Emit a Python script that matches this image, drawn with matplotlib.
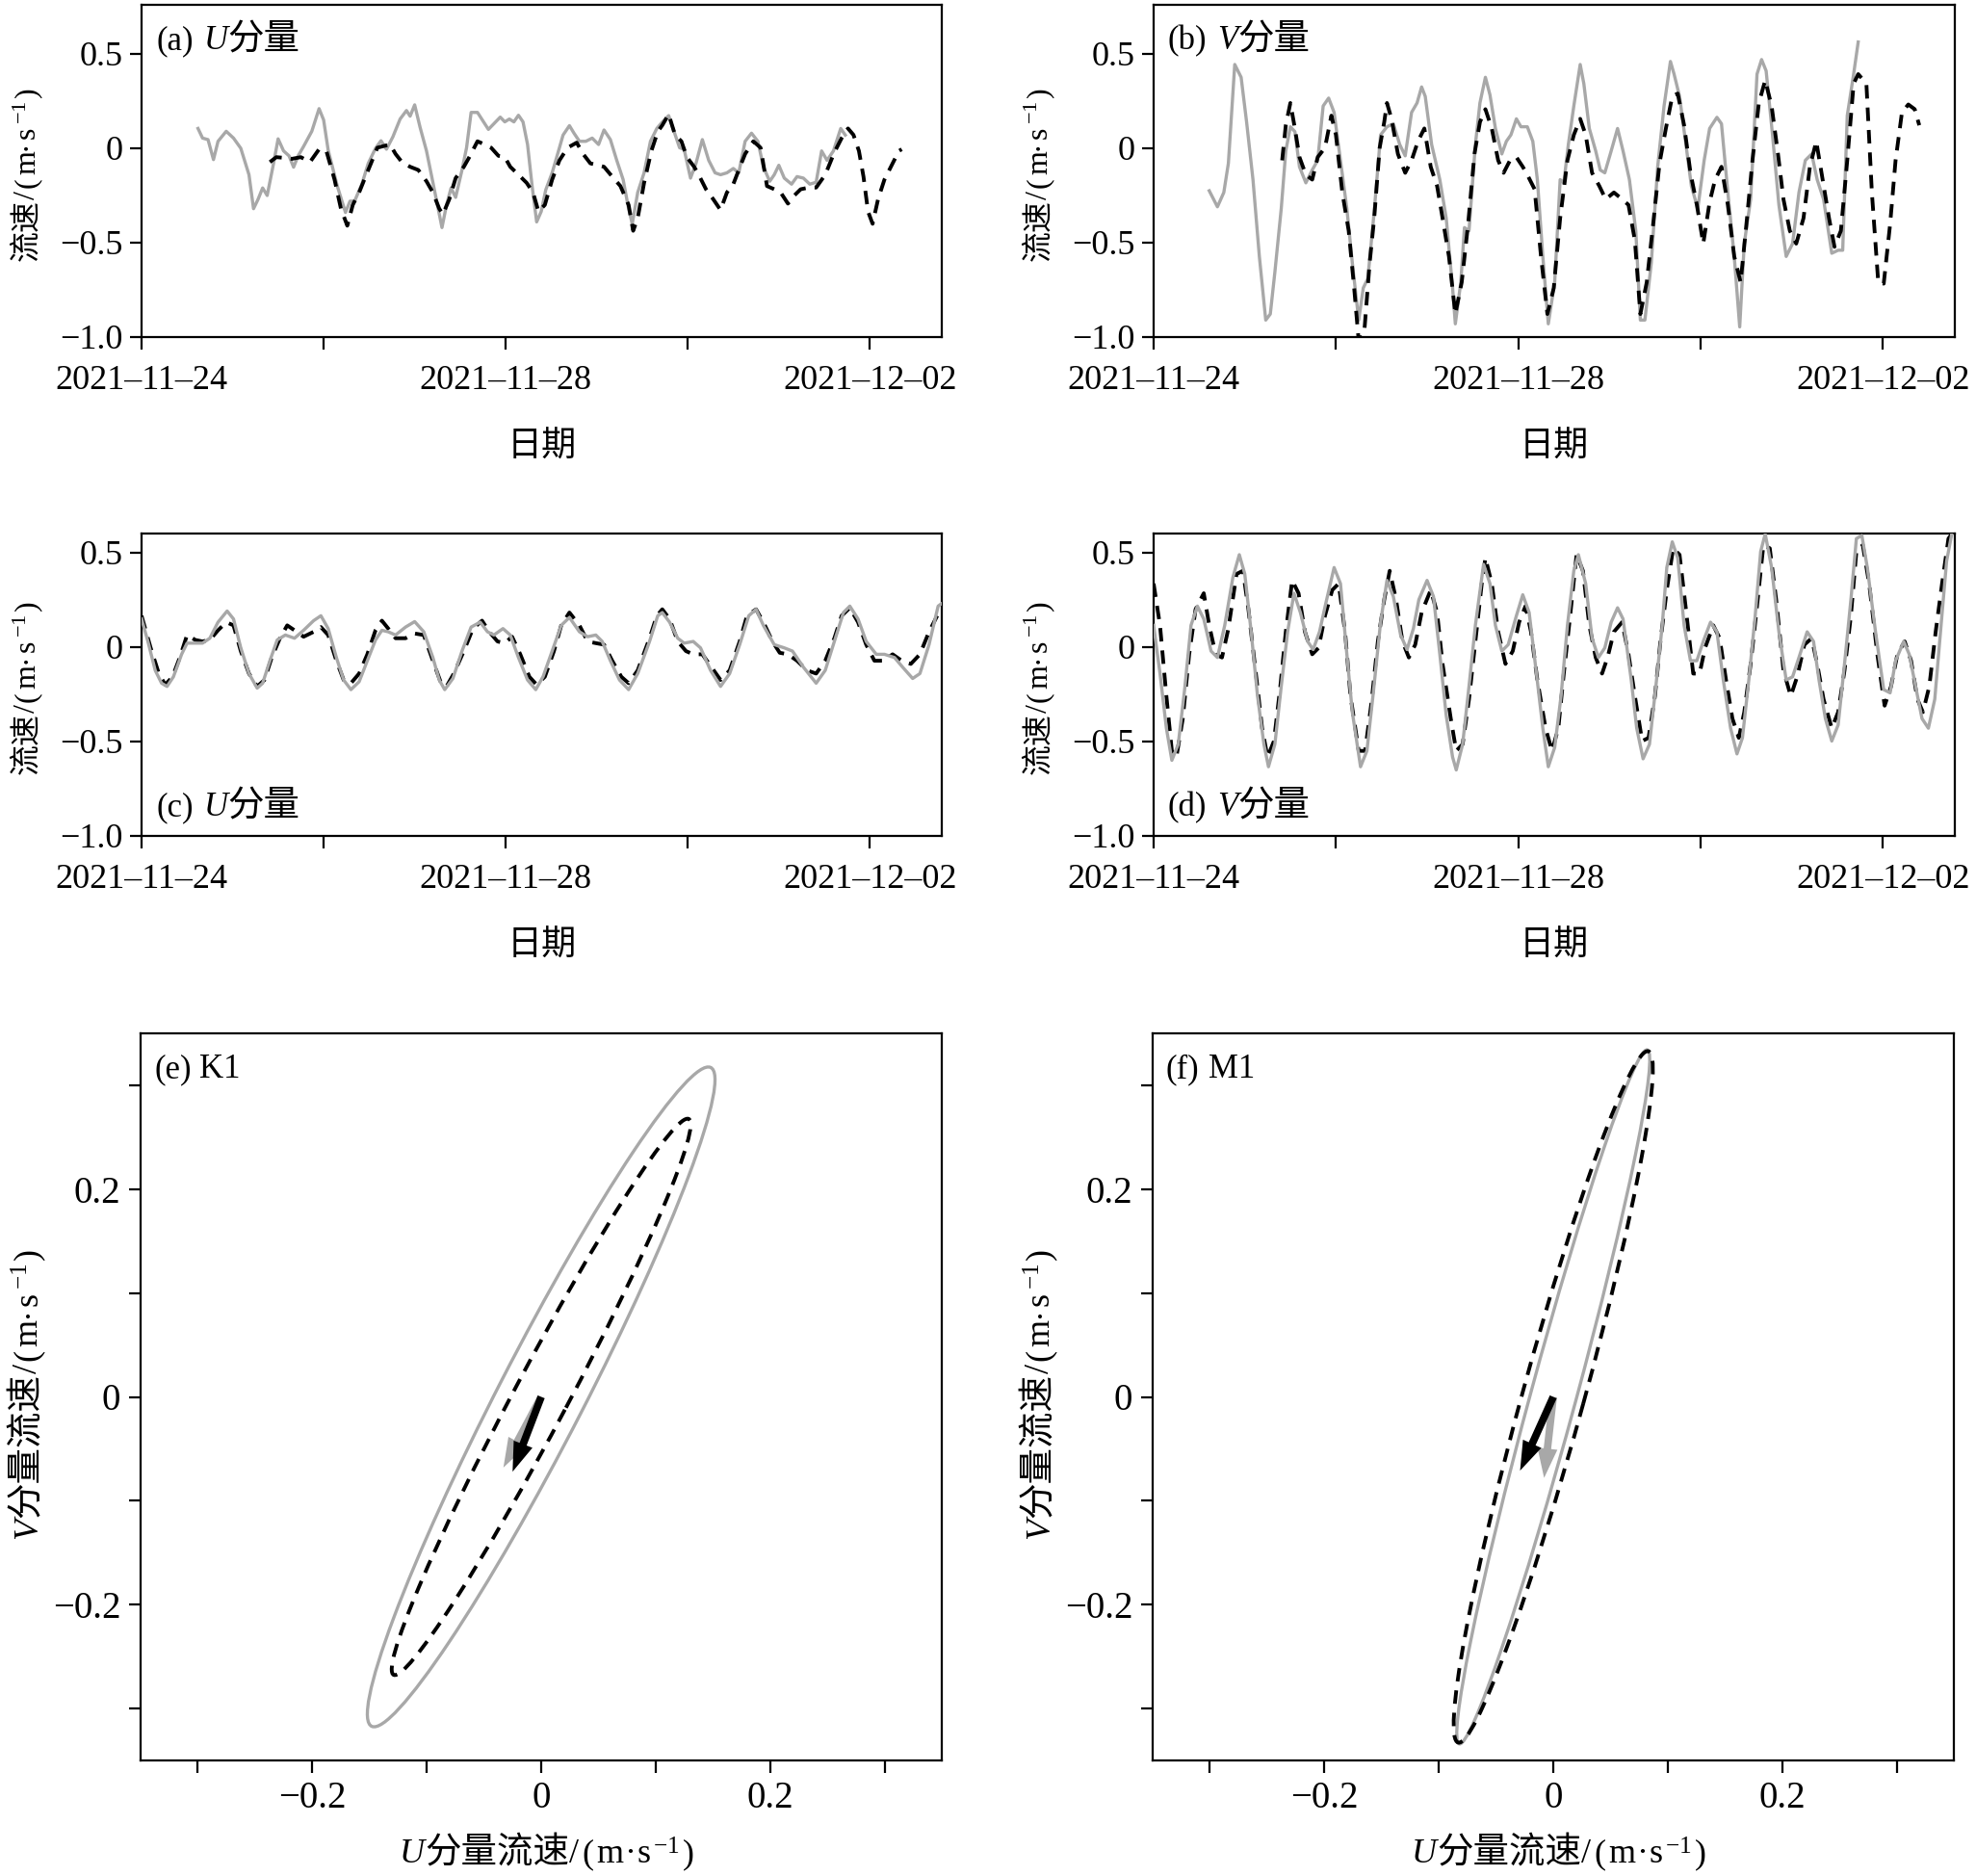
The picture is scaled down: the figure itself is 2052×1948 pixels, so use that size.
import numpy as np
import pandas as pd
import matplotlib
matplotlib.use("Agg")
import matplotlib.pyplot as plt
import matplotlib.dates as mdates
from matplotlib.patches import Ellipse
from matplotlib.transforms import IdentityTransform
from matplotlib.ticker import FixedLocator, FuncFormatter

plt.rcParams["font.family"] = ["Liberation Serif", "Noto Sans CJK SC", "DejaVu Sans"]
plt.rcParams["axes.linewidth"] = 1.6
plt.rcParams["mathtext.fontset"] = "custom"
plt.rcParams["mathtext.rm"] = "Liberation Serif"
plt.rcParams["mathtext.it"] = "Liberation Serif:italic"

GRAY = "#a8a8a8"
T0 = pd.Timestamp("2021-11-24")

# ---- (a) U component, days since 2021-11-24 ----
a_obs_t = [0.62, 0.67, 0.73, 0.79, 0.84, 0.93, 1.01, 1.09, 1.18, 1.23, 1.28, 1.33, 1.38, 1.45, 1.50,
           1.56, 1.62, 1.67, 1.72, 1.78, 1.87, 1.95, 2.00, 2.05, 2.15, 2.24, 2.29, 2.34, 2.42, 2.49,
           2.57, 2.63, 2.69, 2.76, 2.84, 2.91, 2.95, 3.00, 3.06, 3.13, 3.20, 3.25, 3.30, 3.35, 3.40,
           3.45, 3.52, 3.57, 3.62, 3.69, 3.77, 3.81, 3.87, 3.94, 3.99, 4.04, 4.09, 4.14, 4.19, 4.24,
           4.29, 4.34, 4.39, 4.44, 4.51, 4.58, 4.63, 4.70, 4.75, 4.81, 4.88, 4.95, 5.02, 5.08, 5.15,
           5.22, 5.29, 5.35, 5.39, 5.45, 5.52, 5.59, 5.66, 5.72, 5.79, 5.85, 5.91, 5.96, 6.03, 6.09,
           6.16, 6.23, 6.30, 6.36, 6.43, 6.50, 6.56, 6.63, 6.70, 6.77, 6.83, 6.90, 6.95, 7.00, 7.06,
           7.14, 7.20, 7.27, 7.34, 7.41, 7.47, 7.53, 7.60, 7.68, 7.73]
a_obs_v = [0.105, 0.054, 0.046, -0.06, 0.037, 0.09, 0.054, 0.0, -0.14, -0.32, -0.27, -0.21, -0.25, -0.08, 0.05,
           -0.014, -0.04, -0.10, -0.04, 0.01, 0.09, 0.21, 0.15, -0.01, -0.20, -0.34, -0.28, -0.28, -0.19, -0.08,
           0.0, 0.04, -0.005, 0.06, 0.155, 0.20, 0.17, 0.23, 0.11, -0.014, -0.18, -0.30, -0.42, -0.30, -0.21,
           -0.26, -0.115, 0.003, 0.19, 0.19, 0.13, 0.10, 0.13, 0.165, 0.14, 0.155, 0.14, 0.175, 0.14, 0.02,
           -0.20, -0.39, -0.335, -0.22, -0.13, -0.014, 0.07, 0.12, 0.08, 0.037, 0.037, 0.054, 0.02, 0.097, 0.046,
           -0.064, -0.166, -0.32, -0.40, -0.234, -0.13, 0.037, 0.105, 0.139, 0.173, 0.088, 0.003, -0.005, -0.158, -0.08,
           0.046, -0.064, -0.13, -0.14, -0.13, -0.107, -0.13, 0.037, 0.08, 0.037, -0.098, -0.175, -0.14, -0.09, -0.158,
           -0.19, -0.15, -0.158, -0.19, -0.18, -0.014, -0.064, -0.014, 0.105, 0.07]
a_sim_t = [1.41, 1.48, 1.55, 1.65, 1.75, 1.85, 1.95, 2.03, 2.12, 2.19, 2.26, 2.32, 2.39, 2.46, 2.52,
           2.59, 2.66, 2.73, 2.79, 2.86, 2.95, 3.04, 3.13, 3.20, 3.27, 3.31, 3.38, 3.45, 3.54, 3.60,
           3.69, 3.77, 3.84, 3.92, 3.99, 4.05, 4.14, 4.23, 4.30, 4.36, 4.43, 4.51, 4.59, 4.68, 4.78,
           4.85, 4.93, 5.02, 5.08, 5.17, 5.26, 5.35, 5.40, 5.45, 5.52, 5.60, 5.67, 5.72, 5.79, 5.86,
           5.93, 5.99, 6.07, 6.13, 6.20, 6.28, 6.36, 6.43, 6.50, 6.56, 6.63, 6.72, 6.80, 6.87, 6.95,
           7.02, 7.10, 7.17, 7.24, 7.33, 7.41, 7.51, 7.61, 7.69, 7.76, 7.82, 7.88, 7.93, 7.98, 8.03,
           8.09, 8.16, 8.25, 8.32, 8.35]
a_sim_v = [-0.073, -0.047, -0.05, -0.056, -0.047, -0.073, -0.005, -0.014, -0.166, -0.32, -0.41, -0.30, -0.234, -0.15, -0.08,
           0.003, 0.012, 0.02, -0.03, -0.073, -0.098, -0.115, -0.175, -0.234, -0.32, -0.35, -0.27, -0.158, -0.098, -0.047,
           0.037, 0.02, 0.003, -0.04, -0.047, -0.098, -0.14, -0.183, -0.234, -0.335, -0.30, -0.166, -0.064, 0.003, 0.03,
           -0.03, -0.08, -0.09, -0.098, -0.15, -0.20, -0.30, -0.437, -0.37, -0.183, -0.014, 0.088, 0.122, 0.18, 0.071,
           0.037, -0.047, -0.098, -0.15, -0.217, -0.27, -0.327, -0.234, -0.19, -0.115, -0.03, 0.037, 0.003, -0.20, -0.217,
           -0.234, -0.293, -0.25, -0.217, -0.208, -0.208, -0.14, -0.022, 0.054, 0.105, 0.071, -0.014, -0.15, -0.335, -0.40,
           -0.27, -0.166, -0.08, -0.014, -0.005]

# ---- (b) V component ----
b_obs_t = [0.61, 0.70, 0.77, 0.82, 0.89, 0.96, 1.02, 1.09, 1.16, 1.23, 1.28, 1.33, 1.40, 1.45, 1.50,
           1.55, 1.60, 1.67, 1.74, 1.80, 1.86, 1.92, 1.98, 2.05, 2.12, 2.18, 2.25, 2.30, 2.35, 2.42,
           2.49, 2.56, 2.63, 2.70, 2.76, 2.83, 2.89, 2.94, 2.98, 3.05, 3.14, 3.21, 3.28, 3.31, 3.37,
           3.41, 3.46, 3.53, 3.58, 3.64, 3.69, 3.75, 3.82, 3.87, 3.92, 3.98, 4.03, 4.10, 4.16, 4.21,
           4.27, 4.33, 4.40, 4.46, 4.50, 4.55, 4.61, 4.68, 4.72, 4.78, 4.85, 4.90, 4.95, 5.02, 5.09,
           5.15, 5.22, 5.29, 5.34, 5.39, 5.46, 5.53, 5.60, 5.67, 5.71, 5.77, 5.84, 5.90, 5.97, 6.04,
           6.10, 6.18, 6.23, 6.30, 6.37, 6.43, 6.48, 6.55, 6.62, 6.67, 6.72, 6.79, 6.86, 6.94, 7.01,
           7.08, 7.15, 7.22, 7.28, 7.35, 7.44, 7.51, 7.56, 7.61, 7.68, 7.73]
b_obs_v = [-0.225, -0.31, -0.234, -0.08, 0.444, 0.376, 0.139, -0.166, -0.573, -0.91, -0.878, -0.657, -0.32, -0.014, 0.114,
           0.088, -0.098, -0.183, -0.115, -0.064, 0.224, 0.266, 0.19, -0.064, -0.32, -0.607, -0.91, -0.74, -0.69, -0.335,
           0.071, 0.114, 0.13, 0.02, -0.04, 0.19, 0.24, 0.325, 0.275, 0.02, -0.166, -0.37, -0.74, -0.93, -0.71,
           -0.42, -0.437, 0.02, 0.24, 0.376, 0.283, 0.105, -0.03, 0.037, 0.071, 0.156, 0.114, 0.114, 0.037, -0.166,
           -0.573, -0.93, -0.71, -0.166, -0.183, 0.02, 0.224, 0.444, 0.342, 0.105, -0.014, -0.115, -0.13, -0.014, 0.105,
           -0.014, -0.166, -0.437, -0.91, -0.91, -0.607, -0.098, 0.224, 0.46, 0.393, 0.275, 0.02, -0.20, -0.32, -0.064,
           0.105, 0.164, 0.13, -0.234, -0.573, -0.946, -0.505, -0.27, 0.393, 0.47, 0.41, 0.071, -0.30, -0.573, -0.505,
           -0.234, -0.064, -0.03, -0.166, -0.27, -0.556, -0.54, -0.54, 0.173, 0.393, 0.563]
b_sim_t = [1.41, 1.45, 1.50, 1.55, 1.60, 1.67, 1.74, 1.80, 1.88, 1.95, 2.00, 2.07, 2.14, 2.20, 2.25,
           2.31, 2.37, 2.42, 2.48, 2.53, 2.56, 2.61, 2.68, 2.76, 2.83, 2.90, 2.97, 3.04, 3.11, 3.17,
           3.24, 3.31, 3.38, 3.45, 3.52, 3.58, 3.64, 3.71, 3.78, 3.84, 3.91, 3.98, 4.05, 4.11, 4.18,
           4.25, 4.32, 4.39, 4.46, 4.54, 4.61, 4.68, 4.74, 4.81, 4.89, 4.96, 5.05, 5.14, 5.21, 5.28,
           5.34, 5.41, 5.48, 5.55, 5.62, 5.69, 5.75, 5.82, 5.89, 5.96, 6.03, 6.10, 6.16, 6.23, 6.30,
           6.37, 6.44, 6.51, 6.57, 6.64, 6.71, 6.78, 6.85, 6.91, 6.98, 7.05, 7.13, 7.20, 7.27, 7.34,
           7.41, 7.47, 7.54, 7.61, 7.68, 7.73, 7.82, 7.88, 7.95, 8.01, 8.08, 8.14, 8.21, 8.28, 8.35,
           8.40]
b_sim_v = [-0.064, 0.122, 0.24, 0.105, -0.047, -0.14, -0.166, -0.047, 0.003, 0.173, 0.071, -0.234, -0.437, -0.74, -1.02,
           -0.98, -0.607, -0.37, 0.003, 0.139, 0.24, 0.156, -0.03, -0.13, -0.064, 0.037, 0.105, -0.098, -0.20, -0.37,
           -0.573, -0.878, -0.71, -0.403, -0.03, 0.139, 0.207, 0.105, -0.064, -0.13, -0.064, -0.047, -0.098, -0.15, -0.217,
           -0.573, -0.878, -0.74, -0.37, -0.064, 0.071, 0.156, 0.071, -0.13, -0.20, -0.27, -0.234, -0.27, -0.30, -0.488,
           -0.878, -0.71, -0.403, -0.08, 0.105, 0.275, 0.29, 0.122, -0.13, -0.30, -0.505, -0.285, -0.166, -0.098, -0.30,
           -0.573, -0.71, -0.37, -0.064, 0.24, 0.36, 0.224, -0.03, -0.27, -0.437, -0.505, -0.37, -0.098, 0.037, -0.166,
           -0.37, -0.522, -0.437, -0.064, 0.342, 0.393, 0.342, -0.234, -0.71, -0.717, -0.403, -0.064, 0.19, 0.232, 0.207,
           0.122]

# ---- (c) U component (harmonic) ----
c_obs_t = [0.00, 0.07, 0.15, 0.22, 0.28, 0.35, 0.44, 0.50, 0.59, 0.67, 0.75, 0.84, 0.94, 1.01, 1.09,
           1.18, 1.27, 1.33, 1.41, 1.49, 1.58, 1.68, 1.78, 1.89, 1.97, 2.05, 2.14, 2.22, 2.30, 2.39,
           2.48, 2.57, 2.64, 2.71, 2.79, 2.90, 3.00, 3.10, 3.20, 3.27, 3.33, 3.42, 3.52, 3.62, 3.72,
           3.80, 3.87, 3.97, 4.05, 4.14, 4.24, 4.33, 4.41, 4.51, 4.61, 4.70, 4.81, 4.90, 4.99, 5.06,
           5.15, 5.25, 5.35, 5.45, 5.58, 5.67, 5.72, 5.80, 5.89, 5.96, 6.06, 6.14, 6.25, 6.36, 6.46,
           6.57, 6.67, 6.75, 6.83, 6.95, 7.06, 7.15, 7.27, 7.41, 7.51, 7.61, 7.71, 7.78, 7.87, 7.96,
           8.07, 8.16, 8.27, 8.36, 8.47, 8.55, 8.65, 8.75, 8.79]
c_obs_v = [0.148, 0.029, -0.124, -0.192, -0.209, -0.158, -0.039, 0.02, 0.02, 0.02, 0.046, 0.131, 0.19, 0.148, -0.005,
           -0.141, -0.218, -0.192, -0.073, 0.037, 0.063, 0.046, 0.088, 0.139, 0.165, 0.097, -0.056, -0.175, -0.226, -0.184,
           -0.073, 0.037, 0.088, 0.08, 0.063, 0.105, 0.134, 0.08, -0.056, -0.175, -0.226, -0.167, -0.022, 0.105, 0.131,
           0.08, 0.063, 0.097, 0.063, -0.056, -0.175, -0.226, -0.158, -0.022, 0.114, 0.156, 0.08, 0.054, 0.063, 0.029,
           -0.073, -0.175, -0.226, -0.141, 0.029, 0.165, 0.182, 0.131, 0.046, 0.02, 0.029, -0.005, -0.124, -0.209, -0.141,
           0.012, 0.165, 0.199, 0.114, 0.012, -0.005, -0.022, -0.107, -0.192, -0.124, 0.029, 0.182, 0.216, 0.148, 0.029,
           -0.039, -0.039, -0.056, -0.107, -0.167, -0.141, 0.012, 0.216, 0.23]
c_sim_t = [0.00, 0.10, 0.19, 0.26, 0.34, 0.42, 0.50, 0.59, 0.67, 0.75, 0.84, 0.93, 1.01, 1.09, 1.18,
           1.27, 1.35, 1.43, 1.52, 1.60, 1.68, 1.78, 1.89, 1.97, 2.05, 2.14, 2.22, 2.30, 2.39, 2.48,
           2.57, 2.64, 2.71, 2.79, 2.90, 3.00, 3.10, 3.20, 3.29, 3.35, 3.43, 3.54, 3.64, 3.74, 3.82,
           3.91, 3.99, 4.07, 4.16, 4.26, 4.34, 4.43, 4.53, 4.61, 4.70, 4.81, 4.90, 4.99, 5.08, 5.17,
           5.27, 5.35, 5.45, 5.58, 5.66, 5.72, 5.80, 5.89, 5.98, 6.06, 6.16, 6.26, 6.36, 6.46, 6.57,
           6.65, 6.75, 6.83, 6.93, 7.01, 7.10, 7.20, 7.31, 7.41, 7.51, 7.61, 7.69, 7.78, 7.87, 7.96,
           8.05, 8.15, 8.25, 8.35, 8.45, 8.55, 8.65, 8.74]
c_sim_v = [0.165, -0.005, -0.141, -0.20, -0.158, -0.056, 0.063, 0.037, 0.029, 0.037, 0.088, 0.131, 0.114, -0.022, -0.141,
           -0.209, -0.175, -0.056, 0.046, 0.114, 0.088, 0.054, 0.08, 0.105, 0.063, -0.073, -0.175, -0.192, -0.141, -0.039,
           0.088, 0.139, 0.097, 0.046, 0.046, 0.071, 0.063, -0.073, -0.192, -0.209, -0.141, -0.022, 0.097, 0.139, 0.08,
           0.029, 0.02, 0.054, -0.039, -0.158, -0.20, -0.158, -0.022, 0.114, 0.182, 0.114, 0.029, 0.02, 0.012, -0.073,
           -0.158, -0.192, -0.124, 0.046, 0.165, 0.199, 0.148, 0.029, -0.022, -0.039, -0.039, -0.107, -0.175, -0.124, 0.029,
           0.165, 0.199, 0.131, 0.029, -0.031, -0.039, -0.073, -0.124, -0.141, -0.073, 0.046, 0.165, 0.207, 0.131, 0.012,
           -0.073, -0.073, -0.039, -0.073, -0.09, -0.039, 0.08, 0.165]

# ---- (d) V component (harmonic) ----
d_obs_t = [0.00, 0.07, 0.14, 0.20, 0.27, 0.34, 0.41, 0.48, 0.55, 0.63, 0.70, 0.78, 0.87, 0.94, 1.00,
           1.07, 1.14, 1.21, 1.26, 1.33, 1.40, 1.47, 1.54, 1.61, 1.69, 1.75, 1.82, 1.89, 1.98, 2.05,
           2.12, 2.18, 2.27, 2.34, 2.41, 2.49, 2.56, 2.63, 2.71, 2.78, 2.85, 2.91, 3.00, 3.07, 3.14,
           3.21, 3.28, 3.32, 3.39, 3.46, 3.53, 3.62, 3.69, 3.75, 3.82, 3.89, 3.98, 4.05, 4.12, 4.20,
           4.27, 4.33, 4.40, 4.47, 4.54, 4.61, 4.66, 4.74, 4.81, 4.88, 4.95, 5.02, 5.09, 5.15, 5.24,
           5.30, 5.37, 5.44, 5.51, 5.58, 5.63, 5.69, 5.75, 5.82, 5.89, 5.96, 6.03, 6.11, 6.18, 6.25,
           6.33, 6.40, 6.46, 6.53, 6.60, 6.66, 6.71, 6.78, 6.86, 6.94, 7.01, 7.08, 7.17, 7.24, 7.30,
           7.37, 7.44, 7.51, 7.58, 7.65, 7.71, 7.77, 7.83, 7.92, 8.01, 8.08, 8.14, 8.23, 8.29, 8.36,
           8.43, 8.50, 8.57, 8.63, 8.70, 8.76, 8.79]
d_obs_v = [0.114, -0.141, -0.43, -0.60, -0.515, -0.226, 0.114, 0.216, 0.148, -0.022, -0.056, 0.114, 0.369, 0.488, 0.386,
           0.08, -0.26, -0.515, -0.634, -0.515, -0.209, 0.08, 0.284, 0.182, 0.029, -0.014, 0.08, 0.233, 0.42, 0.335,
           -0.039, -0.345, -0.634, -0.55, -0.243, 0.131, 0.352, 0.267, 0.063, -0.014, 0.097, 0.25, 0.352, 0.267, -0.039,
           -0.362, -0.583, -0.651, -0.515, -0.209, 0.114, 0.437, 0.335, 0.114, -0.022, 0.012, 0.165, 0.276, 0.182, -0.141,
           -0.43, -0.634, -0.532, -0.26, 0.114, 0.403, 0.488, 0.335, 0.046, -0.056, -0.005, 0.131, 0.207, 0.148, -0.175,
           -0.43, -0.592, -0.515, -0.209, 0.114, 0.42, 0.556, 0.471, 0.114, -0.073, -0.073, 0.029, 0.131, 0.08, -0.175,
           -0.43, -0.566, -0.481, -0.175, 0.165, 0.505, 0.598, 0.42, 0.08, -0.175, -0.158, -0.056, 0.08, 0.029, -0.175,
           -0.379, -0.498, -0.413, -0.09, 0.25, 0.573, 0.59, 0.42, 0.08, -0.226, -0.243, -0.073, 0.029, -0.039, -0.209,
           -0.379, -0.43, -0.277, 0.063, 0.454, 0.607, 0.63]
d_sim_t = [0.00, 0.07, 0.14, 0.20, 0.25, 0.32, 0.39, 0.46, 0.55, 0.61, 0.68, 0.75, 0.82, 0.91, 0.98,
           1.04, 1.13, 1.19, 1.25, 1.32, 1.39, 1.45, 1.52, 1.59, 1.66, 1.74, 1.81, 1.88, 1.96, 2.03,
           2.10, 2.16, 2.25, 2.32, 2.39, 2.46, 2.53, 2.59, 2.66, 2.73, 2.80, 2.87, 2.94, 3.04, 3.11,
           3.17, 3.26, 3.32, 3.39, 3.46, 3.53, 3.60, 3.64, 3.71, 3.78, 3.86, 3.94, 4.01, 4.08, 4.14,
           4.21, 4.30, 4.37, 4.44, 4.50, 4.57, 4.64, 4.71, 4.78, 4.85, 4.92, 4.98, 5.05, 5.14, 5.21,
           5.28, 5.36, 5.43, 5.50, 5.56, 5.63, 5.70, 5.77, 5.84, 5.92, 5.99, 6.05, 6.14, 6.21, 6.28,
           6.35, 6.42, 6.48, 6.55, 6.62, 6.69, 6.76, 6.83, 6.91, 6.99, 7.06, 7.14, 7.22, 7.28, 7.35,
           7.44, 7.51, 7.58, 7.65, 7.71, 7.78, 7.85, 7.94, 8.02, 8.09, 8.16, 8.24, 8.31, 8.38, 8.44,
           8.51, 8.58, 8.65, 8.72, 8.79]
d_sim_v = [0.335, 0.114, -0.26, -0.55, -0.583, -0.379, -0.039, 0.199, 0.284, 0.114, -0.039, -0.056, 0.097, 0.386, 0.403,
           0.199, -0.175, -0.43, -0.583, -0.498, -0.209, 0.08, 0.352, 0.284, 0.08, -0.039, -0.005, 0.165, 0.301, 0.335,
           0.08, -0.26, -0.55, -0.55, -0.294, 0.029, 0.25, 0.403, 0.25, 0.029, -0.056, 0.012, 0.182, 0.301, 0.182,
           -0.09, -0.379, -0.55, -0.515, -0.277, 0.029, 0.335, 0.471, 0.335, 0.08, -0.09, -0.022, 0.131, 0.216, 0.08,
           -0.175, -0.43, -0.55, -0.43, -0.141, 0.165, 0.488, 0.403, 0.114, -0.056, -0.141, -0.056, 0.08, 0.131, -0.039,
           -0.26, -0.498, -0.481, -0.26, 0.029, 0.301, 0.522, 0.488, 0.199, -0.141, -0.141, -0.005, 0.114, 0.046, -0.175,
           -0.379, -0.481, -0.345, -0.09, 0.216, 0.539, 0.522, 0.25, -0.124, -0.26, -0.158, 0.012, 0.046, -0.09, -0.277,
           -0.43, -0.345, -0.124, 0.165, 0.505, 0.539, 0.335, -0.039, -0.311, -0.209, -0.039, 0.029, -0.073, -0.277, -0.345,
           -0.209, 0.08, 0.335, 0.573, 0.62]

# ---- (e)/(f) tidal current ellipses: semi-major, semi-minor (m/s), inclination (deg) ----
ell_names = ["K1", "M1"]
ell_obs_major = [0.350, 0.344]
ell_obs_minor = [0.038, 0.020]
ell_obs_incl = [65.0, 76.2]
ell_sim_major = [0.297, 0.343]
ell_sim_minor = [0.024, 0.027]
ell_sim_incl = [64.3, 76.0]
# phase arrows (end points, m/s)
arr_obs_u = [-0.033, -0.008]
arr_obs_v = [-0.068, -0.078]
arr_sim_u = [-0.025, -0.029]
arr_sim_v = [-0.072, -0.071]

W, H = 2052, 1948
fig = plt.figure(figsize=(W / 100, H / 100), dpi=100)
renderer = fig.canvas.get_renderer()


def px_axes(l, r, t, b):
    return fig.add_axes([l / W, 1 - b / H, (r - l) / W, (b - t) / H])


def rich(parts, x, y, rot=0, ha="center"):
    # parts: (text, props) or (None, gap_px); x, y: baseline anchor, pixels from top-left
    y = H - y
    texts, ws = [], []
    for s, kw in parts:
        if s is None:
            texts.append(None); ws.append(kw); continue
        t = fig.text(0, 0, s, transform=IdentityTransform(), rotation=rot,
                     rotation_mode="anchor", ha="left", va="baseline", **kw)
        bb = t.get_window_extent(renderer)
        ws.append(bb.height if rot else bb.width)
        texts.append(t)
    pos = -sum(ws) / 2 if ha == "center" else 0
    for t, w in zip(texts, ws):
        if t is not None:
            t.set_position((x, y + pos) if rot else (x + pos, y))
        pos += w


def S(size, **kw):
    return dict(family="Liberation Serif", fontsize=size, **kw)


def C(size, **kw):
    return dict(family="Noto Sans CJK SC", fontsize=size, **kw)


SUP = r"$\mathregular{^{-1}}$"


def unit_parts(size, gap):
    return [("/", S(size)), (None, gap), ("(", S(size)), (None, gap), ("m", S(size)), (None, 1),
            ("·", S(size)), (None, 1), ("s", S(size)), (None, gap), (SUP, S(size)), (None, gap),
            (")", S(size))]


def days(t):
    return (T0 + pd.to_timedelta(np.asarray(t), unit="D")).to_numpy()


tick_days = [0, 2, 4, 6, 8]
tick_nums = mdates.date2num(days(tick_days))


def date_fmt(v, p):
    d = mdates.num2date(v)
    return d.strftime("%Y\u2013%m\u2013%d") if p in (0, 2, 4) else ""


def yfmt(v, p):
    if abs(v) < 1e-9:
        return "0"
    return f"{v:.1f}".replace("-", "\u2212")


def style_ts(ax, top):
    ax.set_xlim(days([0.0, 8.79]))
    ax.set_ylim(-1.0, top)
    ax.xaxis.set_major_locator(FixedLocator(tick_nums))
    ax.xaxis.set_major_formatter(FuncFormatter(date_fmt))
    ax.set_yticks([-1.0, -0.5, 0.0, 0.5])
    ax.yaxis.set_major_formatter(FuncFormatter(yfmt))
    ax.tick_params(direction="out", length=9, width=1.6, labelsize=26)
    ax.tick_params(axis="x", pad=12)
    ax.tick_params(axis="y", pad=5)
    ax.set_xlabel("日期", fontsize=26, family=["Noto Sans CJK SC"], weight="medium")


LW_G, LW_D = 2.4, 2.8
DASH = (3.6, 2.4)

panels = [
    ((147, 978, 5, 350), 0.76, a_obs_t, a_obs_v, a_sim_t, a_sim_v, True),
    ((1198, 2030, 5, 350), 0.76, b_obs_t, b_obs_v, b_sim_t, b_sim_v, True),
    ((147, 978, 554, 868), 0.60, c_obs_t, c_obs_v, c_sim_t, c_sim_v, False),
    ((1198, 2030, 554, 868), 0.60, d_obs_t, d_obs_v, d_sim_t, d_sim_v, False),
]
for box, top, ot, ov, st, sv, dash_top in panels:
    ax = px_axes(*box)
    ax.plot(days(ot), ov, color=GRAY, lw=LW_G, zorder=3 if not dash_top else 2)
    ax.plot(days(st), sv, color="black", lw=LW_D, dashes=DASH, zorder=2 if not dash_top else 3)
    style_ts(ax, top)
    l, r, t, b = box
    ax.xaxis.set_label_coords(0.5, -96 / (b - t))
    # y label: 流速/(m·s⁻¹)
    rich([("流速", C(23, weight="medium"))] + unit_parts(23, 3), l - 111, (t + b) / 2 + 3, rot=90)

# panel tags
for tag, comp, x, y in [("(a)", "U", 162, 51), ("(b)", "V", 1213, 51),
                        ("(c)", "U", 162, 847), ("(d)", "V", 1213, 847)]:
    rich([(tag, S(25)), (None, 11), (comp, S(25, style="italic")), ("分量", C(27, weight="medium"))],
         x, y, ha="left")

# ellipse panels
ell_boxes = [(146, 978, 1073, 1828), (1197, 2029, 1073, 1828)]
ell_tags = ["(e)", "(f)"]


def efmt(v, p):
    if abs(v) < 1e-9:
        return "0"
    if abs(abs(v) - 0.2) < 1e-9:
        return f"{v:.1f}".replace("-", "\u2212")
    return ""


eticks = [-0.3, -0.2, -0.1, 0.0, 0.1, 0.2, 0.3]
ARROW = "simple,head_length=1.1,head_width=0.75,tail_width=0.28"
for i, box in enumerate(ell_boxes):
    ax = px_axes(*box)
    ax.add_patch(Ellipse((0, 0), 2 * ell_obs_major[i], 2 * ell_obs_minor[i], angle=ell_obs_incl[i],
                         fill=False, edgecolor=GRAY, lw=LW_G, zorder=2))
    ax.add_patch(Ellipse((0, 0), 2 * ell_sim_major[i], 2 * ell_sim_minor[i], angle=ell_sim_incl[i],
                         fill=False, edgecolor="black", lw=LW_D, linestyle=(0, DASH), zorder=3))
    ax.annotate("", xy=(arr_obs_u[i], arr_obs_v[i]), xytext=(0, 0),
                arrowprops=dict(arrowstyle=ARROW, color=GRAY, lw=0, shrinkA=0, shrinkB=0,
                                mutation_scale=20), zorder=4)
    ax.annotate("", xy=(arr_sim_u[i], arr_sim_v[i]), xytext=(0, 0),
                arrowprops=dict(arrowstyle=ARROW, color="black", lw=0, shrinkA=0, shrinkB=0,
                                mutation_scale=20), zorder=5)
    ax.set_xlim(-0.35, 0.35)
    ax.set_ylim(-0.35, 0.35)
    ax.set_xticks(eticks)
    ax.set_yticks(eticks)
    ax.xaxis.set_major_formatter(FuncFormatter(efmt))
    ax.yaxis.set_major_formatter(FuncFormatter(efmt))
    ax.tick_params(direction="out", length=9, width=1.6, labelsize=28, pad=6)
    l, r, t, b = box
    rich([(ell_tags[i], S(25)), (None, 9), (ell_names[i], S(25))], l + 14, 1119, ha="left")
    cx = (l + r) / 2 + 6
    rich([("U", S(26, style="italic")), ("分量流速", C(27))] + unit_parts(26, 3), cx, 1934)
    rich([("V", S(26, style="italic")), ("分量流速", C(27))] + unit_parts(26, 3),
         l - 108, 1447, rot=90)

fig.savefig("out.png", dpi=100)
print("saved out.png")
